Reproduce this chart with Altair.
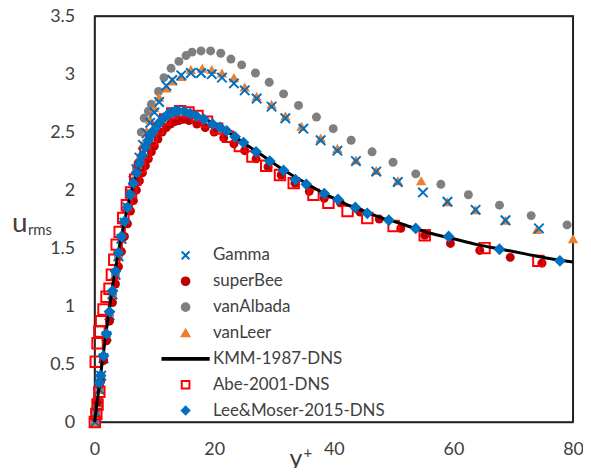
import altair as alt
import pandas as pd

# ---------------- data ----------------
series_order = ["Gamma", "superBee", "vanAlbada", "vanLeer",
                "KMM-1987-DNS", "Abe-2001-DNS", "Lee&Moser-2015-DNS"]

gamma_x = [0.1, 0.3, 0.5, 0.8, 1.1, 1.5, 2, 2.5, 3, 3.5, 4, 4.5, 5, 5.5, 6, 6.5, 7, 7.5, 8.1, 8.7, 9.3, 10,
           10.8, 12, 13, 14.5, 16.1, 17.8, 19.6, 21.3, 23.3, 25.1, 27.1, 29.6, 31.9, 34.9, 37.8, 40.6, 43.7,
           47.1, 50.7, 54.9, 59, 63.7, 68.7, 74.3]
gamma_y = [0.0, 0.08, 0.17, 0.28, 0.40, 0.55, 0.74, 0.92, 1.10, 1.27, 1.43, 1.58, 1.72, 1.85, 1.97, 2.08, 2.18,
           2.28, 2.39, 2.49, 2.58, 2.67, 2.76, 2.90, 2.95, 2.99, 3.01, 3.01, 3.00, 2.97, 2.92, 2.86, 2.79, 2.72,
           2.62, 2.53, 2.43, 2.34, 2.25, 2.16, 2.07, 1.98, 1.90, 1.83, 1.74, 1.67]

superbee_x = [0.5, 1, 1.5, 2, 2.5, 3, 3.5, 4, 4.5, 5, 5.5, 6, 6.5, 7, 7.5, 8, 8.5, 9, 9.5, 10, 10.6, 11.3, 12,
              12.7, 13.4, 14.1, 14.9, 15.8, 17.1, 18.5, 20, 21.6, 23.3, 25.1, 27, 29, 31.2, 33.5, 35.9, 38.4,
              41.1, 44.4, 47.6, 51.2, 55.2, 59.5, 64.4, 69.5, 74.8]
superbee_y = [0.17, 0.35, 0.53, 0.70, 0.87, 1.03, 1.19, 1.34, 1.47, 1.60, 1.71, 1.82, 1.91, 2.00, 2.08, 2.15,
              2.21, 2.27, 2.33, 2.38, 2.44, 2.50, 2.54, 2.57, 2.59, 2.60, 2.61, 2.60, 2.57, 2.54, 2.50, 2.45,
              2.40, 2.34, 2.27, 2.20, 2.13, 2.06, 1.99, 1.93, 1.89, 1.81, 1.75, 1.67, 1.61, 1.54, 1.48, 1.42, 1.37]

vanalbada_x = [0.1, 0.3, 0.5, 0.8, 1.1, 1.5, 2, 2.5, 3, 3.5, 4, 4.5, 5, 5.5, 6, 6.5, 7, 7.8, 8.3, 9.0, 9.5,
               10.7, 11.6, 12.8, 14.1, 15.3, 16.3, 17.8, 19.4, 21.1, 22.8, 24.6, 26.9, 29.2, 31.6, 34.1, 37.1,
               39.9, 42.9, 46.4, 49.9, 53.7, 57.9, 62.5, 67.7, 73, 79]
vanalbada_y = [0.0, 0.08, 0.17, 0.28, 0.40, 0.55, 0.74, 0.92, 1.10, 1.27, 1.43, 1.58, 1.72, 1.85, 1.97, 2.08,
               2.19, 2.50, 2.62, 2.68, 2.74, 2.85, 2.97, 3.05, 3.11, 3.16, 3.19, 3.20, 3.20, 3.18, 3.13, 3.08,
               3.01, 2.93, 2.83, 2.73, 2.63, 2.53, 2.43, 2.33, 2.24, 2.14, 2.05, 1.96, 1.87, 1.78, 1.70]

vanleer_x = [0.1, 0.3, 0.5, 0.8, 1.1, 1.5, 2, 2.5, 3, 3.5, 4, 4.5, 5, 5.5, 6, 6.5, 7, 7.5, 8.1, 8.7, 9.3, 10,
             10.8, 12, 13, 14.5, 16.1, 18, 19.6, 21.3, 23.3, 25.1, 27.1, 29.6, 31.9, 34.6, 37.8, 40.6, 43.7,
             47.1, 50.7, 54.6, 59, 63.7, 68.7, 74, 80]
vanleer_y = [0.0, 0.08, 0.17, 0.28, 0.40, 0.55, 0.74, 0.92, 1.10, 1.27, 1.43, 1.58, 1.72, 1.85, 1.97, 2.08,
             2.19, 2.29, 2.40, 2.51, 2.61, 2.71, 2.80, 2.88, 2.94, 2.98, 3.04, 3.05, 3.04, 3.01, 2.97, 2.89,
             2.81, 2.74, 2.64, 2.55, 2.45, 2.36, 2.26, 2.17, 2.08, 2.08, 1.90, 1.83, 1.74, 1.66, 1.58]

kmm_x = [0, 0.5, 1, 1.5, 2, 2.5, 3, 3.5, 4, 5, 6, 7, 8, 9, 10, 11, 12, 13, 14, 15, 16, 17, 18, 20, 22, 24,
         26, 28, 30, 32, 34, 36, 38, 40, 42, 45, 48, 50, 53, 56, 60, 64, 68, 72, 76, 80]
kmm_y = [0, 0.2, 0.4, 0.6, 0.8, 0.98, 1.16, 1.32, 1.47, 1.73, 1.96, 2.14, 2.30, 2.43, 2.53, 2.60, 2.64, 2.67,
         2.68, 2.68, 2.66, 2.64, 2.62, 2.57, 2.51, 2.44, 2.37, 2.30, 2.23, 2.16, 2.10, 2.04, 1.98, 1.93, 1.88,
         1.82, 1.76, 1.73, 1.68, 1.63, 1.58, 1.53, 1.49, 1.45, 1.41, 1.38]

abe_x = [0.05, 0.3, 0.5, 0.8, 0.2, 0.5, 0.8, 1.1, 1.5, 2.0, 2.5, 2.9, 3.3, 3.7, 4.2, 4.8, 5.4, 6.1, 6.8, 7.6,
         8.5, 9.5, 10.6, 11.8, 13.0, 14.3, 15.7, 17.2, 18.8, 20.5, 22.3, 24.3, 26.4, 28.7, 31.0, 33.3, 36.6,
         39.1, 42.3, 45.6, 50.0, 55.2, 65.2, 74.2]
abe_y = [0.0, 0.07, 0.15, 0.26, 0.52, 0.68, 0.78, 0.87, 0.97, 1.08, 1.15, 1.27, 1.40, 1.53, 1.64, 1.76, 1.87,
         1.98, 2.09, 2.20, 2.32, 2.43, 2.53, 2.61, 2.66, 2.68, 2.67, 2.64, 2.59, 2.53, 2.46, 2.38, 2.29, 2.21,
         2.13, 2.06, 1.96, 1.89, 1.82, 1.76, 1.69, 1.61, 1.50, 1.39]

lee_x = [0.8, 1, 1.5, 2, 2.5, 3, 3.5, 4, 4.5, 5, 5.5, 6, 6.5, 7, 7.5, 8, 8.5, 9, 9.5, 10, 10.5, 11, 11.5, 12,
         12.5, 13, 13.5, 14, 15, 16, 17, 18.3, 19.7, 21, 22.1, 23.5, 24.9, 27, 29.3, 31.6, 33.6, 35.4, 38.4,
         40.7, 43.6, 45.6, 49.2, 53.7, 59.2, 67.7, 77.8]
lee_y = [0.34, 0.40, 0.57, 0.76, 0.95, 1.13, 1.30, 1.46, 1.60, 1.73, 1.85, 1.96, 2.06, 2.15, 2.23, 2.30, 2.37,
         2.43, 2.48, 2.52, 2.56, 2.59, 2.62, 2.64, 2.66, 2.67, 2.68, 2.68, 2.68, 2.66, 2.64, 2.61, 2.57, 2.54,
         2.51, 2.46, 2.41, 2.33, 2.25, 2.17, 2.09, 2.05, 1.97, 1.92, 1.85, 1.80, 1.74, 1.67, 1.60, 1.49, 1.39]

x_ticks = [0, 20, 40, 60, 80]
y_ticks = [0, 0.5, 1, 1.5, 2, 2.5, 3, 3.5]
x_domain = [0, 80]
y_domain = [0, 3.5]

# corners of the top and right edges of the plot box, in data units
frame_x = [0, 80, 80]
frame_y = [3.5, 3.5, 0]

# ---------------- styles ----------------
strokes = ["#0070C0", "#C00000", "#7F7F7F", "#ED7D31", "#000000", "#FF0000", "#0070C0"]
fills = ["#0070C0", "#C00000", "#7F7F7F", "#ED7D31", "#000000", "transparent", "#0070C0"]
shapes = ["M-1,-1L1,1M-1,1L1,-1", "circle", "circle", "triangle-up",
          "M-6,-0.22H6V0.22H-6Z", "square", "diamond"]

FONT = "Lato"
TXT = "#404040"
W, H = 481, 408
FRAME = "#222222"

def frame(xs, ys, name):
    return pd.DataFrame({"x": xs, "y": ys, "series": name})

xenc = alt.X("x:Q", scale=alt.Scale(domain=x_domain, nice=False),
             axis=alt.Axis(values=x_ticks, title=None, ticks=False, grid=False, labelFlush=False,
                           labelFont=FONT, labelFontSize=18, labelColor=TXT, labelPadding=19,
                           domainColor=FRAME, domainWidth=1.5))
yenc = alt.Y("y:Q", scale=alt.Scale(domain=y_domain, nice=False),
             axis=alt.Axis(values=y_ticks, title=None, ticks=False, grid=False, format="~g",
                           labelFlush=False,
                           labelFont=FONT, labelFontSize=18, labelColor=TXT, labelPadding=20,
                           domainColor=FRAME, domainWidth=1.5))

legend = alt.Legend(title=None, orient="none", legendX=83, legendY=232,
                    symbolSize=60, symbolStrokeWidth=2, labelFont=FONT, labelFontSize=17,
                    labelColor=TXT, labelOffset=19, rowPadding=8, labelLimit=0, symbolType="circle")

def enc_common():
    return dict(
        shape=alt.Shape("series:N", scale=alt.Scale(domain=series_order, range=shapes), legend=legend),
        fill=alt.Fill("series:N", scale=alt.Scale(domain=series_order, range=fills), legend=legend),
        stroke=alt.Stroke("series:N", scale=alt.Scale(domain=series_order, range=strokes), legend=legend),
    )

def point_layer(df, size, sw):
    return alt.Chart(df).mark_point(size=size, strokeWidth=sw, opacity=1, filled=False).encode(
        x=xenc, y=yenc, **enc_common())

# top and right edges of the box, drawn as a line through the scales
edge = alt.Chart(pd.DataFrame({"x": frame_x, "y": frame_y, "k": [0, 1, 2]})).mark_line(
    color=FRAME, strokeWidth=2, clip=False).encode(x=xenc, y=yenc, order="k:Q")

layers = [
    edge,
    point_layer(frame(vanalbada_x, vanalbada_y, "vanAlbada"), 81, 0),
    point_layer(frame(vanleer_x, vanleer_y, "vanLeer"), 110, 0),
    point_layer(frame(gamma_x, gamma_y, "Gamma"), 90, 2),
    point_layer(frame(superbee_x, superbee_y, "superBee"), 81, 0),
    point_layer(frame(abe_x, abe_y, "Abe-2001-DNS"), 110, 2),
    alt.Chart(frame(kmm_x, kmm_y, "KMM-1987-DNS")).mark_line(color="black", strokeWidth=3,
                                                             interpolate="monotone").encode(x=xenc, y=yenc),
    point_layer(frame(lee_x, lee_y, "Lee&Moser-2015-DNS"), 140, 0),
]

def label(text, x, y, size):
    return alt.Chart(pd.DataFrame({"t": [text]})).mark_text(
        font=FONT, fontSize=size, color=TXT, align="left", baseline="alphabetic").encode(
        text="t:N", x=alt.value(x), y=alt.value(y))

titles = [
    label("u", -83, 217, 28),
    label("rms", -67, 220, 15),
    label("y", 196, 453, 25),
    label("+", 210, 444, 15),
]

chart = alt.layer(*layers, *titles).properties(
    width=W, height=H,
    autosize=alt.AutoSizeParams(type="none"),
    padding={"left": 87, "top": 7, "right": 10, "bottom": 45},
    background="white",
).configure_view(stroke=FRAME, strokeWidth=1.5)

chart.save("out.html", embed_options={"renderer": "svg", "actions": False})
